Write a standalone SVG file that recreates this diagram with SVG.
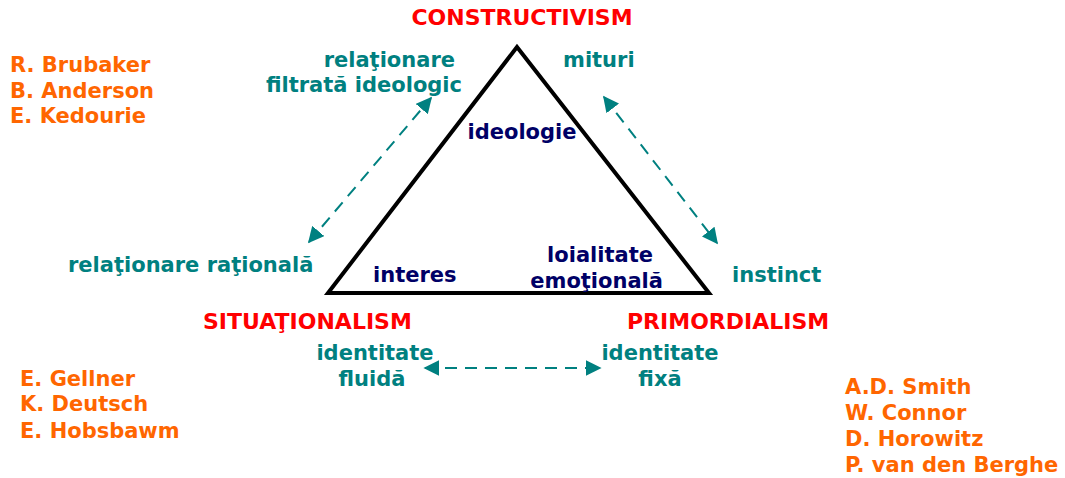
<svg xmlns="http://www.w3.org/2000/svg" width="1065" height="478" viewBox="0 0 1065 478">
<style>
text{font-family:"DejaVu Sans",Verdana,sans-serif;font-weight:bold;font-size:21px}
.red{fill:#ff0000;font-size:22px}
.org{fill:#ff6600}
.teal{fill:#008080}
.navy{fill:#000066}
.c{text-anchor:middle}
.e{text-anchor:end}
.dash{stroke:#008080;stroke-width:2;stroke-dasharray:12 8;fill:none;marker-start:url(#ah);marker-end:url(#ah)}
</style>
<defs>
<marker id="ah" viewBox="0 0 10 10" refX="9" refY="5" markerWidth="8" markerHeight="8" orient="auto-start-reverse" markerUnits="strokeWidth">
<path d="M0,0 L10,5 L0,10 z" fill="#008080"/>
</marker>
</defs>
<rect width="1065" height="478" fill="#ffffff"/>
<g id="triangle">
<polygon points="517,47 328,293 709,293" fill="none" stroke="#000" stroke-width="4" stroke-linejoin="miter"/>
</g>
<g id="connectors">
<line class="dash" x1="309" y1="242" x2="431" y2="98"/>
<line class="dash" x1="604" y1="97" x2="717" y2="243"/>
<line class="dash" x1="425" y1="368" x2="600" y2="368"/>
</g>
<g id="constructivism">
<text class="red c" x="522" y="25">CONSTRUCTIVISM</text>
</g>
<g id="situationalism">
<text class="red" x="203" y="329">SITUAŢIONALISM</text>
</g>
<g id="primordialism">
<text class="red" x="627" y="329">PRIMORDIALISM</text>
</g>
<g id="rel-filtrata">
<text class="teal e" x="455" y="67">relaţionare</text>
<text class="teal e" x="462" y="92">filtrată ideologic</text>
</g>
<g id="mituri"><text class="teal" x="563" y="67">mituri</text></g>
<g id="ideologie"><text class="navy c" x="522" y="139">ideologie</text></g>
<g id="rel-rationala"><text class="teal" x="68" y="272">relaţionare raţională</text></g>
<g id="interes"><text class="navy" x="373" y="282">interes</text></g>
<g id="loialitate">
<text class="navy e" x="653" y="262">loialitate</text>
<text class="navy e" x="663" y="288">emoţională</text>
</g>
<g id="instinct"><text class="teal" x="732" y="282">instinct</text></g>
<g id="id-fluida">
<text class="teal c" x="375" y="360">identitate</text>
<text class="teal c" x="372" y="386">fluidă</text>
</g>
<g id="id-fixa">
<text class="teal c" x="660" y="360">identitate</text>
<text class="teal c" x="660" y="386">fixă</text>
</g>
<g id="authors-constructivism">
<text class="org" x="10" y="72">R. Brubaker</text>
<text class="org" x="10" y="98">B. Anderson</text>
<text class="org" x="10" y="123">E. Kedourie</text>
</g>
<g id="authors-situationalism">
<text class="org" x="20" y="386">E. Gellner</text>
<text class="org" x="20" y="411">K. Deutsch</text>
<text class="org" x="20" y="438">E. Hobsbawm</text>
</g>
<g id="authors-primordialism">
<text class="org" x="845" y="394">A.D. Smith</text>
<text class="org" x="845" y="420">W. Connor</text>
<text class="org" x="845" y="446">D. Horowitz</text>
<text class="org" x="845" y="472">P. van den Berghe</text>
</g>
</svg>
